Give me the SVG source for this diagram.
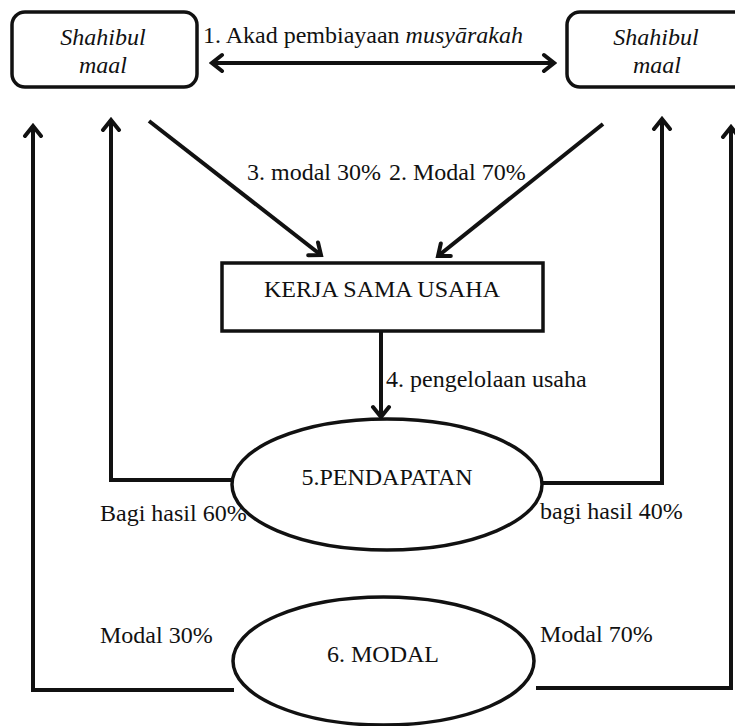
<svg xmlns="http://www.w3.org/2000/svg" width="735" height="726" viewBox="0 0 735 726">
<style>
  .i { font-style: italic; }
  .c { text-anchor: middle; }
  .box { fill: #fff; stroke: #111; stroke-width: 3.5; }
  .ln { fill: none; stroke: #111; stroke-width: 4; }
  .arr { marker-end: url(#ah); }
</style>
<defs>
  <marker id="ah" viewBox="-14 -11 17 22" refX="0" refY="0" markerWidth="17" markerHeight="22" markerUnits="userSpaceOnUse" orient="auto-start-reverse">
    <path d="M-10,-8 L0,0 L-10,8" fill="none" stroke="#111" stroke-width="4" stroke-linecap="round"/>
  </marker>
</defs>
<rect width="735" height="726" fill="#fff"/>

<g id="connectors">
  <line class="ln" x1="212" y1="63" x2="554" y2="63" marker-start="url(#ah)" marker-end="url(#ah)"/>
  <line class="ln arr" x1="149" y1="121" x2="321" y2="255"/>
  <line class="ln arr" x1="603" y1="124" x2="438" y2="256"/>
  <line class="ln arr" x1="381" y1="331" x2="381" y2="417"/>
  <polyline class="ln arr" points="232,480 111,480 111,120"/>
  <polyline class="ln arr" points="543,483 662,483 662,119"/>
  <polyline class="ln arr" points="234,690 33,690 33,126"/>
  <polyline class="ln arr" points="536,688 731,688 731,127"/>
</g>

<g font-family="Liberation Serif, serif" font-size="24" fill="#111">
<g id="shahibul-left">
  <rect class="box" x="12" y="12" width="185" height="75" rx="13"/>
  <text class="i c" x="103" y="45">Shahibul</text>
  <text class="i c" x="103" y="73">maal</text>
</g>

<g id="shahibul-right">
  <rect class="box" x="567" y="12" width="200" height="75" rx="13"/>
  <text class="i c" x="656" y="45">Shahibul</text>
  <text class="i c" x="657" y="73">maal</text>
</g>

<g id="kerja-sama">
  <rect class="box" x="222" y="263" width="321" height="68"/>
  <text class="c" x="382" y="297">KERJA SAMA USAHA</text>
</g>

<g id="pendapatan">
  <ellipse class="box" cx="387" cy="484.5" rx="155" ry="65.5"/>
  <text class="c" x="387" y="485">5.PENDAPATAN</text>
</g>

<g id="modal">
  <ellipse class="box" cx="383.5" cy="661" rx="150.5" ry="64"/>
  <text class="c" x="383" y="662">6. MODAL</text>
</g>

<g id="labels">
  <text x="203" y="43">1. Akad pembiayaan <tspan class="i">musyārakah</tspan></text>
  <text x="247" y="180">3. modal 30%</text>
  <text x="389" y="180">2. Modal 70%</text>
  <text x="386" y="387">4. pengelolaan usaha</text>
  <text x="100" y="521">Bagi hasil 60%</text>
  <text x="540" y="519">bagi hasil 40%</text>
  <text x="100" y="643">Modal 30%</text>
  <text x="540" y="642">Modal 70%</text>
</g>
</g>
</svg>
